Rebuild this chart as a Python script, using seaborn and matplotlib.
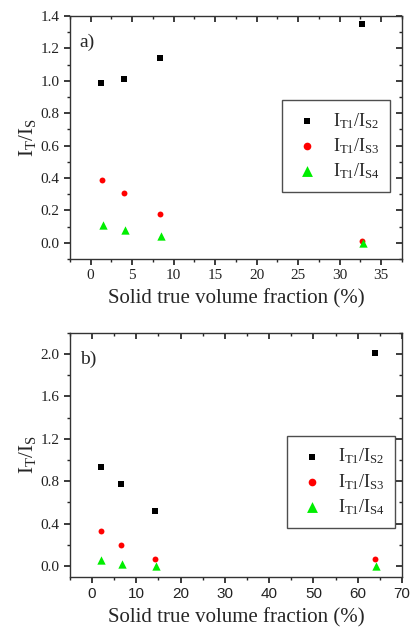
import matplotlib
matplotlib.use('Agg')
import matplotlib.pyplot as plt
import seaborn as sns
import pandas as pd
from matplotlib.ticker import AutoMinorLocator, MultipleLocator

# Panel a) data
xa_s2 = [1.3, 4.0, 8.4, 32.7]
ya_s2 = [0.985, 1.01, 1.14, 1.35]
xa_s3 = [1.4, 4.0, 8.4, 32.7]
ya_s3 = [0.39, 0.31, 0.18, 0.01]
xa_s4 = [1.5, 4.1, 8.5, 32.8]
ya_s4 = [0.11, 0.08, 0.04, 0.0]

# Panel b) data
xb_s2 = [2.0, 6.5, 14.2, 64.0]
yb_s2 = [0.93, 0.775, 0.515, 2.005]
xb_s3 = [2.0, 6.5, 14.2, 64.0]
yb_s3 = [0.335, 0.20, 0.07, 0.07]
xb_s4 = [2.1, 6.7, 14.4, 64.2]
yb_s4 = [0.055, 0.015, 0.005, 0.005]

labels = [r'$\mathregular{I_{T1}/I_{S2}}$', r'$\mathregular{I_{T1}/I_{S3}}$', r'$\mathregular{I_{T1}/I_{S4}}$']

sns.set_theme(style='ticks')
plt.rcParams['font.family'] = ['Liberation Serif', 'DejaVu Serif']
plt.rcParams['mathtext.fontset'] = 'custom'
plt.rcParams['mathtext.rm'] = 'Liberation Serif'

fig = plt.figure(figsize=(4.11, 6.28), dpi=100)
ax_a = fig.add_axes([0.170, 0.5876, 0.808, 0.387])
ax_b = fig.add_axes([0.170, 0.0817, 0.808, 0.3885])

styles = [('s', 'black', 14), ('o', 'red', 18), ('^', '#00ee00', 36)]


def draw_panel(ax, series, tag, xlim, ylim, xstep, ystep, leg_anchor):
    for (x, y), lab, (m, c, s) in zip(series, labels, styles):
        df = pd.DataFrame({'x': x, 'y': y})
        sns.scatterplot(data=df, x='x', y='y', marker=m, color=c, s=s,
                        linewidth=0, label=lab, ax=ax)
    ax.set_xlim(*xlim)
    ax.set_ylim(*ylim)
    ax.xaxis.set_major_locator(MultipleLocator(xstep))
    ax.yaxis.set_major_locator(MultipleLocator(ystep))
    ax.xaxis.set_minor_locator(AutoMinorLocator(2))
    ax.yaxis.set_minor_locator(AutoMinorLocator(2))
    ax.tick_params(axis='both', which='major', direction='out', length=4,
                   labelsize=11, colors='#222222')
    ax.tick_params(axis='both', which='minor', direction='out', length=2)
    for side in ['top', 'right']:
        ax.spines[side].set_visible(True)
    for sp in ax.spines.values():
        sp.set_linewidth(1.0)
        sp.set_color('#333333')
    # inward ticks on the opposite sides
    sec_x = ax.secondary_xaxis('top')
    sec_x.xaxis.set_major_locator(MultipleLocator(xstep))
    sec_x.xaxis.set_minor_locator(AutoMinorLocator(2))
    sec_x.tick_params(which='major', direction='in', length=4, labeltop=False)
    sec_x.tick_params(which='minor', direction='in', length=2)
    sec_x.spines['top'].set_visible(False)
    sec_y = ax.secondary_yaxis('right')
    sec_y.yaxis.set_major_locator(MultipleLocator(ystep))
    sec_y.yaxis.set_minor_locator(AutoMinorLocator(2))
    sec_y.tick_params(which='major', direction='in', length=4, labelright=False)
    sec_y.tick_params(which='minor', direction='in', length=2)
    sec_y.spines['right'].set_visible(False)

    ax.set_xlabel('Solid true volume fraction (%)', fontsize=15, labelpad=5)
    ax.set_ylabel(r'$\mathregular{I_T/I_S}$', fontsize=15, labelpad=2)
    ax.text(0.03, 0.89, tag, transform=ax.transAxes, fontsize=14, va='center')
    leg = ax.legend(loc='upper left', bbox_to_anchor=leg_anchor, fontsize=13,
                    frameon=True, fancybox=False, edgecolor='#222222',
                    markerscale=1.3, handletextpad=0.6, labelspacing=0.3,
                    borderpad=0.6, handlelength=1.6, borderaxespad=0)
    leg.get_frame().set_linewidth(1.0)


draw_panel(ax_a, [(xa_s2, ya_s2), (xa_s3, ya_s3), (xa_s4, ya_s4)], 'a)',
           (-2.5, 37.5), (-0.1, 1.4), 5, 0.2, (0.639, 0.654))
draw_panel(ax_b, [(xb_s2, yb_s2), (xb_s3, yb_s3), (xb_s4, yb_s4)], 'b)',
           (-5, 70), (-0.1, 2.2), 10, 0.4, (0.654, 0.577))
for t in ax_b.get_xticklabels():
    t.set_family('Liberation Sans')

fig.savefig('out.png', dpi=100)
